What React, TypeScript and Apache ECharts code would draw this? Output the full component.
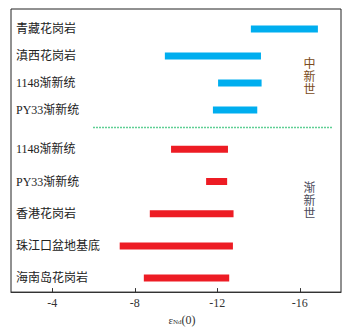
import React, { useEffect, useRef } from "react";
import * as echarts from "echarts";

// Miocene (中新世) group, top to bottom
const upperCats = ["青藏花岗岩", "滇西花岗岩", "1148渐新统", "PY33渐新统"];
const upperLow = [-13.63, -9.46, -12.04, -11.79];
const upperHigh = [-16.88, -14.12, -14.15, -13.94];

// Oligocene (渐新世) group, top to bottom
const lowerCats = ["1148渐新统", "PY33渐新统", "香港花岗岩", "珠江口盆地基底", "海南岛花岗岩"];
const lowerLow = [-9.76, -11.46, -8.73, -7.27, -8.44];
const lowerHigh = [-12.52, -12.48, -12.79, -12.76, -12.58];

const xTicks = [-16, -12, -8, -4];
const xMin = -18;
const xMax = -2;

const FONT = "'Liberation Serif', 'Noto Sans CJK SC', serif";

function rangeRender(color: string) {
  return (params: any, api: any) => {
    const cat = api.value(0);
    const lo = api.value(1);
    const hi = api.value(2);
    const p1 = api.coord([lo, cat]);
    const p2 = api.coord([hi, cat]);
    const h = 7;
    const x = Math.min(p1[0], p2[0]);
    const w = Math.abs(p2[0] - p1[0]);
    return {
      type: "rect",
      shape: { x, y: p1[1] - h / 2, width: w, height: h },
      style: { fill: color },
    };
  };
}

export default function App() {
  const ref = useRef<HTMLDivElement>(null);
  useEffect(() => {
    if (!ref.current) return;
    const chart = echarts.init(ref.current, undefined, { renderer: "svg" });
    const hiddenX = (gridIndex: number) => ({
      type: "value" as const,
      gridIndex,
      min: xMin,
      max: xMax,
      inverse: true,
      show: false,
    });
    const catY = (gridIndex: number, data: string[]) => ({
      type: "category" as const,
      gridIndex,
      data,
      inverse: true,
      axisLine: { show: false },
      axisTick: { show: false },
      splitLine: { show: false },
      axisLabel: {
        inside: true,
        margin: 5,
        color: "#222",
        fontSize: 12,
        fontFamily: FONT,
      },
    });
    chart.setOption({
      animation: false,
      backgroundColor: "#fff",
      grid: [
        { left: 11, right: 7, top: 9, bottom: 31, show: true, borderColor: "#222", borderWidth: 1, backgroundColor: "transparent" },
        { left: 11, right: 7, top: 15.5, height: 108 },
        { left: 11, right: 7, top: 133.2, height: 161 },
      ],
      xAxis: [
        {
          type: "value",
          gridIndex: 0,
          min: xMin,
          max: xMax,
          inverse: true,
          splitLine: { show: false },
          axisLine: { lineStyle: { color: "#333", width: 1 } },
          axisTick: { inside: true, length: 4, customValues: xTicks, lineStyle: { color: "#333" } },
          axisLabel: { customValues: xTicks, color: "#333", fontSize: 12, fontFamily: FONT, margin: 5 },
          name: "{e|ε}{s|Nd}{p|(0)}",
          nameLocation: "middle",
          nameGap: 17,
          nameTextStyle: {
            padding: [0, 0, 0, 12],
            rich: {
              e: { fontSize: 11, fontFamily: FONT, color: "#333" },
              s: { fontSize: 7, fontFamily: FONT, color: "#333", verticalAlign: "bottom", padding: [4, 0, 0, 0] },
              p: { fontSize: 12, fontFamily: FONT, color: "#333" },
            },
          },
        },
        hiddenX(1),
        hiddenX(2),
      ],
      yAxis: [
        { type: "value", gridIndex: 0, show: false },
        catY(1, upperCats),
        catY(2, lowerCats),
      ],
      series: [
        {
          type: "custom",
          xAxisIndex: 1,
          yAxisIndex: 1,
          renderItem: rangeRender("#00aeef"),
          encode: { x: [1, 2], y: 0 },
          data: upperCats.map((c, i) => [i, upperLow[i], upperHigh[i]]),
        },
        {
          type: "custom",
          xAxisIndex: 2,
          yAxisIndex: 2,
          renderItem: rangeRender("#ed1c24"),
          encode: { x: [1, 2], y: 0 },
          data: lowerCats.map((c, i) => [i, lowerLow[i], lowerHigh[i]]),
        },
      ],
      graphic: [
        {
          type: "line",
          shape: { x1: 93, y1: 127.5, x2: 333, y2: 127.5 },
          style: { stroke: "#5fcf95", lineWidth: 1.5, lineDash: [2, 1] },
          silent: true,
        },
        {
          type: "text",
          x: 309.5,
          y: 77,
          style: {
            text: "中\n新\n世",
            fontSize: 12,
            lineHeight: 13,
            fontFamily: FONT,
            fill: "#7a4a20",
            align: "center",
            verticalAlign: "middle",
          },
        },
        {
          type: "text",
          x: 309.5,
          y: 201,
          style: {
            text: "渐\n新\n世",
            fontSize: 12,
            lineHeight: 13,
            fontFamily: FONT,
            fill: "#4a4a5a",
            align: "center",
            verticalAlign: "middle",
          },
        },
      ],
    });
    return () => chart.dispose();
  }, []);
  return (
    <div
      ref={ref}
      style={{ position: "absolute", left: 0, top: 0, width: 348, height: 331 }}
    />
  );
}
